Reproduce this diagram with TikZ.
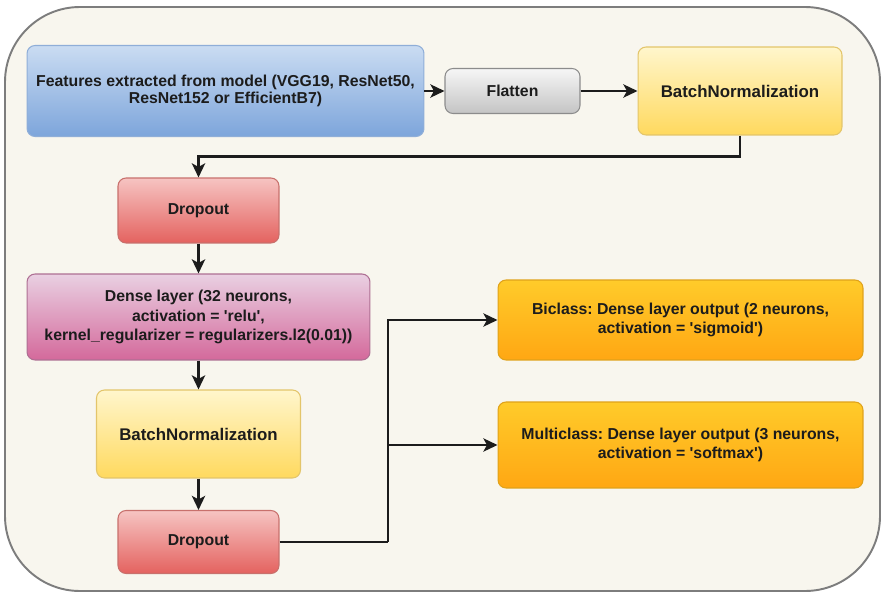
\documentclass[tikz,border=0pt]{standalone}
\usepackage{fontspec}
\setmainfont{Liberation Sans}
\usetikzlibrary{arrows.meta}
\frenchspacing
\begin{document}
\begin{tikzpicture}[x=0.02cm,y=-0.02cm]
  \definecolor{paper}{HTML}{F8F6EE}
  \definecolor{frame}{HTML}{7D7D7D}
  \definecolor{ink}{HTML}{1C1C1C}
  \definecolor{feattop}{HTML}{CADCF2}
  \definecolor{featbot}{HTML}{7DA5DB}
  \definecolor{featline}{HTML}{8FAED8}
  \definecolor{flattop}{HTML}{F6F6F6}
  \definecolor{flatbot}{HTML}{C4C4C4}
  \definecolor{flatline}{HTML}{8C8C8C}
  \definecolor{bntop}{HTML}{FFF6CC}
  \definecolor{bnbot}{HTML}{FFD95E}
  \definecolor{bnline}{HTML}{E3C56A}
  \definecolor{droptop}{HTML}{F6C4C2}
  \definecolor{dropbot}{HTML}{E4625F}
  \definecolor{dropline}{HTML}{C8706C}
  \definecolor{densetop}{HTML}{E9D0E2}
  \definecolor{densebot}{HTML}{D4699B}
  \definecolor{denseline}{HTML}{AE6F93}
  \definecolor{outtop}{HTML}{FFCB2A}
  \definecolor{outbot}{HTML}{FFA713}
  \definecolor{outline}{HTML}{E0A21A}
  \useasboundingbox (0,0) rectangle (885,595);
  % Outer panel behind all layers.
  \draw[frame,fill=paper,line width=1.1pt,rounded corners=1.5cm] (5,7) rectangle (880,591);

  \tikzset{
    layer/.style={rounded corners=0.16cm,line width=0.6pt,inner sep=0pt,
      align=center,text=ink,font=\bfseries\fontsize{9}{11}\selectfont},
    feat/.style={layer,draw=featline,top color=feattop,bottom color=featbot,
      font=\bfseries\fontsize{9}{9.8}\selectfont},
    flat/.style={layer,draw=flatline,top color=flattop,bottom color=flatbot},
    bn/.style={layer,draw=bnline,top color=bntop,bottom color=bnbot,
      font=\bfseries\fontsize{9.6}{11}\selectfont},
    drop/.style={layer,draw=dropline,top color=droptop,bottom color=dropbot},
    dense/.style={layer,draw=denseline,top color=densetop,bottom color=densebot},
    outlayer/.style={layer,draw=outline,top color=outtop,bottom color=outbot},
    link/.style={ink,line width=1.5pt,-{Stealth[length=8pt,width=7.5pt,inset=2pt]}}
  }

  \node[feat,minimum width=7.94cm,minimum height=1.82cm] (feat) at (225.5,91)
    {Features extracted from model (VGG19, ResNet50,\\ResNet152 or EfficientB7)};
  \node[flat,minimum width=2.7cm,minimum height=0.9cm] (flat) at (512.5,91) {Flatten};
  \node[bn,minimum width=4.08cm,minimum height=1.76cm] (bn1) at (740,91) {BatchNormalization};
  \node[drop,minimum width=3.22cm,minimum height=1.3cm] (drop1) at (198.5,210.5) {Dropout};
  \node[dense,minimum width=6.86cm,minimum height=1.72cm] (dense) at (198.5,317)
    {Dense layer (32 neurons,\\activation = \textquotesingle relu\textquotesingle,\\kernel\_regularizer = regularizers.l2(0.01))};
  \node[bn,minimum width=4.08cm,minimum height=1.76cm] (bn2) at (198.5,434) {BatchNormalization};
  \node[drop,minimum width=3.22cm,minimum height=1.26cm] (drop2) at (198.5,542) {Dropout};
  \node[outlayer,minimum width=7.3cm,minimum height=1.6cm] (bi) at (680.5,320)
    {Biclass: Dense layer output (2 neurons,\\activation = \textquotesingle sigmoid\textquotesingle)};
  \node[outlayer,minimum width=7.3cm,minimum height=1.72cm] (multi) at (680.5,445)
    {Multiclass: Dense layer output (3 neurons,\\activation = \textquotesingle softmax\textquotesingle)};

  \draw[link] (feat) -- (flat);
  \draw[link] (flat) -- (bn1);
  \draw[link] (bn1.south) -- ++(0,21) -| (drop1.north);
  \draw[link] (drop1) -- (dense);
  \draw[link] (dense) -- (bn2);
  \draw[link] (bn2) -- (drop2);
  \coordinate (split) at (388,542);
  \draw[ink,line width=1.5pt] (drop2.east) -- (split);
  \draw[link] (split) |- (bi.west);
  \draw[link] (split) |- (multi.west);
\end{tikzpicture}
\end{document}
